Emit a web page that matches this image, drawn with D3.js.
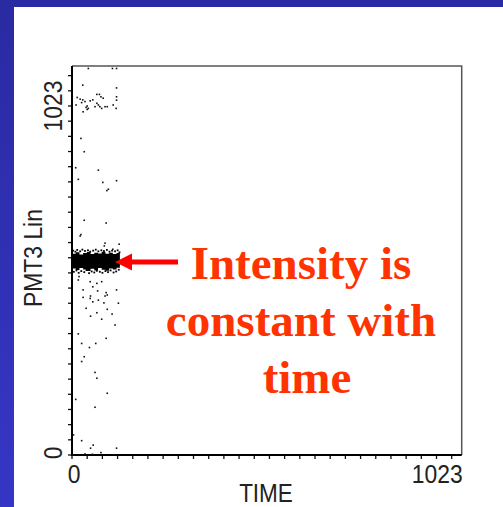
<!DOCTYPE html>
<html>
<head>
<meta charset="utf-8">
<script src="https://cdn.jsdelivr.net/npm/d3@7"></script>
<style>
  html, body { margin: 0; padding: 0; background: #fff; }
  svg { display: block; }
</style>
</head>
<body>
<svg id="root" width="503" height="507"></svg>
<script>
// sparse events (TIME, PMT3 Lin channels)
const eventX = [44, 109, 120, 29, 120,
  14, 22, 29, 35, 41, 49, 56, 67, 74, 78, 84, 67, 71, 75, 80, 62, 89, 95, 111, 120, 120, 119, 11, 26, 44, 38, 30, 41,
  24, 33, 10, 71, 17, 83, 120, 98, 94, 33, 92, 24, 22, 89, 87, 127, 110,
  19, 17, 49, 67, 80, 56, 30, 69, 92, 95, 89, 120, 50, 49, 30, 56, 71, 86, 125, 38, 95, 67, 50, 108, 80, 116,
  17, 92, 26, 64, 47, 33, 26, 62, 67, 95, 10, 62, 4, 26, 57, 50, 120, 78, 35, 55, 3];
const eventY = [1133, 1133, 1133, 1084, 1076,
  1048, 1043, 1041, 1036, 1023, 1038, 1041, 1057, 1057, 1050, 1046, 1031, 1026, 1021, 1016, 1021, 1021, 1021, 1026, 1050, 1040, 1016, 1026, 1033, 1016, 1019, 1006, 1013,
  928, 889, 842, 835, 808, 799, 804, 779, 775, 688, 680, 646, 642, 621, 613, 618, 603,
  523, 513, 508, 503, 508, 493, 484, 481, 476, 469, 466, 484, 466, 459, 462, 449, 454, 446, 445, 430, 427, 417, 407, 413, 398, 381,
  355, 342, 327, 327, 315, 288, 274, 242, 225, 181, 163, 140, 59, 42, 29, 20, 20, 7, 3, 2, 0];

// dense population: outline of the solid core
const coreX = [0, 10, 20, 30, 40, 50, 60, 70, 80, 90, 100, 110, 120, 129];
const coreTop = [590, 594, 588, 592, 595, 589, 593, 591, 596, 590, 593, 589, 592, 587];
const coreBottom = [547, 542, 548, 544, 539, 546, 541, 548, 543, 540, 547, 544, 549, 551];

// loose events around the core edge
const fringeX = [3, 9, 14, 22, 28, 35, 43, 49, 57, 64, 71, 79, 86, 94, 101, 108, 116, 123, 128,
  5, 12, 18, 25, 33, 39, 46, 53, 60, 67, 75, 82, 90, 97, 104, 112, 119, 126];
const fringeY = [599, 596, 601, 597, 602, 598, 600, 596, 599, 602, 597, 600, 598, 601, 596, 599, 597, 600, 594,
  537, 541, 534, 539, 536, 542, 533, 538, 535, 540, 537, 534, 539, 536, 541, 535, 538, 543];

const xTickCount = 26;
const yTickCount = 26;
const xLabels = ["0", "1023"];
const yLabels = ["0", "1023"];
const noteLines = ["Intensity is", "constant with", "time"];

(function () {
  let svg = d3.select("#root");

  let x = d3.scaleLinear().domain([0, 1023]).range([72, 451.7]);
  let y = d3.scaleLinear().domain([0, 1023]).range([455, 106]);

  let left = x(0), right = x(1023) + 10, top = y(1023) - 40, bottom = y(0);

  // slide background
  let defs = svg.append("defs");
  let grad = defs.append("linearGradient").attr("id", "band")
    .attr("x1", 0).attr("y1", 0).attr("x2", 0).attr("y2", 1);
  grad.append("stop").attr("offset", 0).attr("stop-color", "#2a2aa2");
  grad.append("stop").attr("offset", 1).attr("stop-color", "#3636c6");

  svg.append("rect").attr("x", 0).attr("y", 0).attr("width", 503).attr("height", 7).attr("fill", "#2a2aa4");
  svg.append("rect").attr("x", 0).attr("y", 0).attr("width", 14).attr("height", 507).attr("fill", "url(#band)");

  // frame
  svg.append("path")
    .attr("d", `M${left},${top}H${right}V${bottom}`)
    .attr("fill", "none").attr("stroke", "#555").attr("stroke-width", 1.5);

  // ticks
  let yTicks = d3.range(yTickCount).map(i => i * 1023 / 23);
  let xTicks = d3.range(xTickCount).map(i => i * 1023 / 25);

  svg.append("g").selectAll("line").data(yTicks).enter().append("line")
    .attr("x1", left - 4).attr("x2", left)
    .attr("y1", d => y(d)).attr("y2", d => y(d))
    .attr("stroke", "#111").attr("stroke-width", 1.3);

  svg.append("g").selectAll("line").data(xTicks).enter().append("line")
    .attr("x1", d => x(d)).attr("x2", d => x(d))
    .attr("y1", bottom).attr("y2", bottom + 4)
    .attr("stroke", "#111").attr("stroke-width", 1.3);

  svg.append("path")
    .attr("d", `M${left},${top}V${bottom}H${right}`)
    .attr("fill", "none").attr("stroke", "#000").attr("stroke-width", 2);

  // dense core
  let area = d3.area()
    .x((d, i) => x(coreX[i]))
    .y0((d, i) => y(coreBottom[i]))
    .y1((d, i) => y(coreTop[i]))
    .curve(d3.curveStepAfter);

  svg.append("path").datum(coreX).attr("d", area).attr("fill", "#000");

  svg.append("g").selectAll("rect").data(fringeX).enter().append("rect")
    .attr("x", (d, i) => x(d) - 0.9).attr("y", (d, i) => y(fringeY[i]) - 0.9)
    .attr("width", 1.8).attr("height", 1.8).attr("fill", "#000");

  svg.append("g").selectAll("rect").data(eventX).enter().append("rect")
    .attr("x", (d, i) => x(d) - 0.8).attr("y", (d, i) => y(eventY[i]) - 0.8)
    .attr("width", 1.6).attr("height", 1.6).attr("fill", "#111");

  // labels
  let font = "'Liberation Sans', Arial, sans-serif";

  svg.append("text").attr("transform", `translate(62,${y(1023)}) rotate(-90) scale(0.88,1)`)
    .attr("text-anchor", "middle").style("font-family", font).style("font-size", "26px").attr("fill", "#222")
    .text(yLabels[1]);
  svg.append("text").attr("transform", `translate(62,${y(0) - 2}) rotate(-90) scale(0.88,1)`)
    .attr("text-anchor", "middle").style("font-family", font).style("font-size", "26px").attr("fill", "#222")
    .text(yLabels[0]);

  svg.append("text").attr("transform", `translate(${x(0) + 2},483) scale(0.88,1)`)
    .attr("text-anchor", "middle").style("font-family", font).style("font-size", "26px").attr("fill", "#222")
    .text(xLabels[0]);
  svg.append("text").attr("transform", `translate(${right + 1},483) scale(0.88,1)`)
    .attr("text-anchor", "end").style("font-family", font).style("font-size", "26px").attr("fill", "#222")
    .text(xLabels[1]);

  svg.append("text").attr("transform", `translate(266,502) scale(0.9,1)`)
    .attr("text-anchor", "middle").style("font-family", font).style("font-size", "25px").attr("fill", "#222")
    .text("TIME");

  svg.append("text").attr("transform", `translate(41.5,258) rotate(-90) scale(0.88,1)`)
    .attr("text-anchor", "middle").style("font-family", font).style("font-size", "26px").attr("fill", "#222")
    .text("PMT3 Lin");

  // annotation arrow
  let ay = 262;
  svg.append("line").attr("x1", 130).attr("x2", 178).attr("y1", ay).attr("y2", ay)
    .attr("stroke", "#ff0000").attr("stroke-width", 5);
  svg.append("path").attr("d", `M115,${ay}L132,${ay - 8.5}L132,${ay + 8.5}Z`).attr("fill", "#ff0000");

  let noteX = [301, 301, 307];
  svg.append("g").selectAll("text").data(noteLines).enter().append("text")
    .attr("x", (d, i) => noteX[i]).attr("y", (d, i) => 279 + i * 57)
    .attr("text-anchor", "middle")
    .style("font-family", "'Liberation Serif', 'Times New Roman', serif")
    .style("font-weight", "bold").style("font-size", "47px")
    .attr("fill", "#ff3300")
    .text(d => d);
})();
</script>
</body>
</html>
